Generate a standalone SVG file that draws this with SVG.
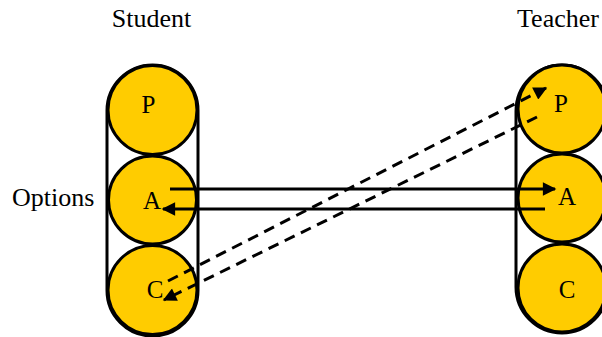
<svg xmlns="http://www.w3.org/2000/svg" width="602" height="337" viewBox="0 0 602 337">
<defs>
<style>
.cap{fill:none;stroke:#000;stroke-width:3}
.c{fill:#FFCC00;stroke:#000;stroke-width:3}
.t{font-family:"Liberation Serif",serif;font-size:25px;fill:#000}
.h{font-family:"Liberation Serif",serif;font-size:26px;fill:#000}
.ln{stroke:#000;stroke-width:3;fill:none}
.d{stroke-dasharray:11 7}
</style>
<marker id="ah" viewBox="0 0 10 10" refX="9" refY="5" markerWidth="5" markerHeight="4.5" orient="auto" markerUnits="strokeWidth">
<path d="M0,0 L10,5 L0,10 z" fill="#000"/>
</marker>
</defs>
<text class="h" x="151.5" y="27" text-anchor="middle">Student</text>
<text class="h" x="558" y="27" text-anchor="middle">Teacher</text>
<text class="h" x="12" y="206">Options</text>
<g id="student">
<rect class="cap" x="107" y="65" width="91" height="271" rx="45.5"/>
<g id="student-P"><circle class="c" cx="152.5" cy="110" r="44.5"/><text class="t" x="148.5" y="113" text-anchor="middle">P</text></g>
<g id="student-A"><circle class="c" cx="152.5" cy="200" r="44"/><text class="t" x="152" y="209" text-anchor="middle">A</text></g>
<g id="student-C"><circle class="c" cx="152.5" cy="290" r="44.5"/><text class="t" x="155" y="298" text-anchor="middle">C</text></g>
</g>
<g id="teacher">
<rect class="cap" x="516" y="65" width="92" height="268" rx="46"/>
<g id="teacher-P"><circle class="c" cx="562" cy="109" r="44"/><text class="t" x="561" y="112" text-anchor="middle">P</text></g>
<g id="teacher-A"><circle class="c" cx="562" cy="198" r="44"/><text class="t" x="567" y="205" text-anchor="middle">A</text></g>
<g id="teacher-C"><circle class="c" cx="562" cy="288" r="44"/><text class="t" x="567" y="298" text-anchor="middle">C</text></g>
</g>
<g id="connectors">
<line class="ln" x1="170" y1="189" x2="555" y2="189" marker-end="url(#ah)"/>
<line class="ln" x1="545" y1="209" x2="163" y2="209" marker-end="url(#ah)"/>
<line class="ln d" x1="168" y1="281" x2="546" y2="88" marker-end="url(#ah)"/>
<line class="ln d" x1="537" y1="117" x2="164" y2="300" marker-end="url(#ah)"/>
</g>
</svg>
